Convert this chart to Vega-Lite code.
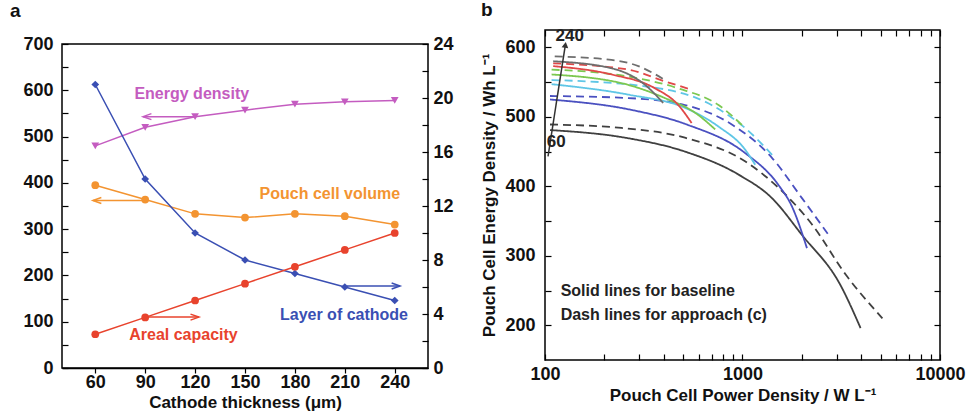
{
  "$schema": "https://vega.github.io/schema/vega-lite/v6.json",
  "padding": {"left": 10, "top": 0, "right": 0, "bottom": 0},
  "spacing": 26,
  "datasets": {
    "left": [
      {"t": 60, "v": 480, "s": "Energy density"}, {"t": 90, "v": 520, "s": "Energy density"}, {"t": 120, "v": 543, "s": "Energy density"}, {"t": 150, "v": 557, "s": "Energy density"}, {"t": 180, "v": 570, "s": "Energy density"}, {"t": 210, "v": 575, "s": "Energy density"}, {"t": 240, "v": 578, "s": "Energy density"},
      {"t": 60, "v": 395, "s": "Pouch cell volume"}, {"t": 90, "v": 364, "s": "Pouch cell volume"}, {"t": 120, "v": 333, "s": "Pouch cell volume"}, {"t": 150, "v": 325, "s": "Pouch cell volume"}, {"t": 180, "v": 333, "s": "Pouch cell volume"}, {"t": 210, "v": 328, "s": "Pouch cell volume"}, {"t": 240, "v": 310, "s": "Pouch cell volume"}
    ],
    "right": [
      {"t": 60, "v": 21, "s": "Layer of cathode"}, {"t": 90, "v": 14, "s": "Layer of cathode"}, {"t": 120, "v": 10, "s": "Layer of cathode"}, {"t": 150, "v": 8, "s": "Layer of cathode"}, {"t": 180, "v": 7, "s": "Layer of cathode"}, {"t": 210, "v": 6, "s": "Layer of cathode"}, {"t": 240, "v": 5, "s": "Layer of cathode"},
      {"t": 60, "v": 2.5, "s": "Areal capacity"}, {"t": 90, "v": 3.75, "s": "Areal capacity"}, {"t": 120, "v": 5, "s": "Areal capacity"}, {"t": 150, "v": 6.25, "s": "Areal capacity"}, {"t": 180, "v": 7.5, "s": "Areal capacity"}, {"t": 210, "v": 8.75, "s": "Areal capacity"}, {"t": 240, "v": 10, "s": "Areal capacity"}
    ],
    "arrowsA": [
      {"s": "Energy density", "x0": 120.5, "x1": 88.7, "y": 543, "dir": "L"},
      {"s": "Pouch cell volume", "x0": 89.3, "x1": 58.6, "y": 362, "dir": "L"},
      {"s": "Areal capacity", "x0": 89.9, "x1": 122.3, "y": 110, "dir": "R"},
      {"s": "Layer of cathode", "x0": 211.3, "x1": 243.2, "y": 177, "dir": "R"}
    ],
    "labelsA": [
      {"t": 118, "v": 592, "s": "Energy density", "label": "Energy density"},
      {"t": 201, "v": 376, "s": "Pouch cell volume", "label": "Pouch cell volume"},
      {"t": 209.5, "v": 114, "s": "Layer of cathode", "label": "Layer of cathode"},
      {"t": 113, "v": 71, "s": "Areal capacity", "label": "Areal capacity"}
    ],
    "curves": [
      {"g": "60", "k": "solid", "P": 106, "E": 481}, {"g": "60", "k": "solid", "P": 254, "E": 470}, {"g": "60", "k": "solid", "P": 511, "E": 450}, {"g": "60", "k": "solid", "P": 953, "E": 417}, {"g": "60", "k": "solid", "P": 1410, "E": 383}, {"g": "60", "k": "solid", "P": 2000, "E": 330}, {"g": "60", "k": "solid", "P": 3130, "E": 258}, {"g": "60", "k": "solid", "P": 3960, "E": 196},
      {"g": "60", "k": "dash", "P": 106, "E": 489}, {"g": "60", "k": "dash", "P": 244, "E": 484}, {"g": "60", "k": "dash", "P": 511, "E": 470}, {"g": "60", "k": "dash", "P": 1030, "E": 436}, {"g": "60", "k": "dash", "P": 1520, "E": 398}, {"g": "60", "k": "dash", "P": 2250, "E": 345}, {"g": "60", "k": "dash", "P": 3330, "E": 273}, {"g": "60", "k": "dash", "P": 5110, "E": 210},
      {"g": "90", "k": "solid", "P": 106, "E": 525}, {"g": "90", "k": "solid", "P": 274, "E": 510}, {"g": "90", "k": "solid", "P": 522, "E": 489}, {"g": "90", "k": "solid", "P": 1030, "E": 448}, {"g": "90", "k": "solid", "P": 1520, "E": 402}, {"g": "90", "k": "solid", "P": 1780, "E": 371}, {"g": "90", "k": "solid", "P": 2120, "E": 311},
      {"g": "90", "k": "dash", "P": 106, "E": 530}, {"g": "90", "k": "dash", "P": 264, "E": 527}, {"g": "90", "k": "dash", "P": 511, "E": 517}, {"g": "90", "k": "dash", "P": 883, "E": 489}, {"g": "90", "k": "dash", "P": 1410, "E": 441}, {"g": "90", "k": "dash", "P": 2000, "E": 383}, {"g": "90", "k": "dash", "P": 2730, "E": 330},
      {"g": "120", "k": "solid", "P": 108, "E": 547}, {"g": "120", "k": "solid", "P": 264, "E": 532}, {"g": "120", "k": "solid", "P": 511, "E": 513}, {"g": "120", "k": "solid", "P": 756, "E": 486}, {"g": "120", "k": "solid", "P": 1030, "E": 453}, {"g": "120", "k": "solid", "P": 1160, "E": 431},
      {"g": "120", "k": "dash", "P": 108, "E": 553}, {"g": "120", "k": "dash", "P": 321, "E": 544}, {"g": "120", "k": "dash", "P": 697, "E": 517}, {"g": "120", "k": "dash", "P": 1030, "E": 484}, {"g": "120", "k": "dash", "P": 1460, "E": 441},
      {"g": "150", "k": "solid", "P": 108, "E": 561}, {"g": "150", "k": "solid", "P": 264, "E": 546}, {"g": "150", "k": "solid", "P": 405, "E": 527}, {"g": "150", "k": "solid", "P": 575, "E": 506}, {"g": "150", "k": "solid", "P": 727, "E": 482},
      {"g": "150", "k": "dash", "P": 108, "E": 568}, {"g": "150", "k": "dash", "P": 264, "E": 558}, {"g": "150", "k": "dash", "P": 473, "E": 541}, {"g": "150", "k": "dash", "P": 756, "E": 517}, {"g": "150", "k": "dash", "P": 1030, "E": 484},
      {"g": "180", "k": "solid", "P": 110, "E": 573}, {"g": "180", "k": "solid", "P": 217, "E": 561}, {"g": "180", "k": "solid", "P": 361, "E": 541}, {"g": "180", "k": "solid", "P": 473, "E": 517}, {"g": "180", "k": "solid", "P": 553, "E": 491},
      {"g": "180", "k": "dash", "P": 110, "E": 577}, {"g": "180", "k": "dash", "P": 264, "E": 568}, {"g": "180", "k": "dash", "P": 405, "E": 551}, {"g": "180", "k": "dash", "P": 553, "E": 539},
      {"g": "240", "k": "solid", "P": 110, "E": 580}, {"g": "240", "k": "solid", "P": 217, "E": 570}, {"g": "240", "k": "solid", "P": 321, "E": 546}, {"g": "240", "k": "solid", "P": 397, "E": 520},
      {"g": "240", "k": "dash", "P": 112, "E": 587}, {"g": "240", "k": "dash", "P": 217, "E": 582}, {"g": "240", "k": "dash", "P": 297, "E": 573}, {"g": "240", "k": "dash", "P": 405, "E": 553}
    ],
    "arrowB": [{"P": 103.6, "E": 443, "P2": 126.8, "E2": 603.7}],
    "numsB": [{"P": 133.5, "E": 616, "label": "240"}, {"P": 114, "E": 464, "label": "60"}],
    "notesB": [{"P": 120, "E": 249, "label": "Solid lines for baseline"}, {"P": 120, "E": 215, "label": "Dash lines for approach (c)"}]
  },
  "hconcat": [
    {
      "spacing": 0,
      "vconcat": [
        {
          "title": {"text": "a", "anchor": "start", "frame": "group", "fontSize": 19, "fontWeight": "bold", "offset": 7, "dx": -52},
          "width": 366,
          "height": 1,
          "data": {"values": [{"z": 0}]},
          "mark": {"type": "point", "opacity": 0},
          "view": {"stroke": null}
        },
        {
          "width": 366,
          "height": 324,
          "view": {"stroke": "black", "strokeWidth": 1.5},
          "layer": [
            {
              "data": {"name": "left"},
              "mark": {"type": "line", "strokeWidth": 1.5},
              "encoding": {
                "x": {"field": "t", "type": "quantitative", "scale": {"domain": [40, 260], "nice": false, "zero": false},
                  "axis": {"orient": "bottom", "values": [60, 90, 120, 150, 180, 210, 240], "title": "Cathode thickness (μm)", "tickSize": 5, "labelPadding": 0, "titlePadding": 3, "labelFlush": false}},
                "y": {"field": "v", "type": "quantitative", "scale": {"domain": [0, 700], "nice": false},
                  "axis": {"orient": "left", "values": [0, 50, 100, 150, 200, 250, 300, 350, 400, 450, 500, 550, 600, 650, 700], "labelExpr": "datum.value % 100 == 0 ? datum.label : ''", "offset": -6, "tickSize": 6, "domain": false, "labelPadding": 9, "title": null}},
                "color": {"field": "s", "type": "nominal", "scale": {"domain": ["Energy density", "Pouch cell volume", "Layer of cathode", "Areal capacity"], "range": ["#c45cc0", "#f39431", "#3a4fb3", "#e8432d"]}, "legend": null}
              }
            },
            {
              "data": {"name": "left"},
              "mark": {"type": "point", "filled": true, "size": 60, "opacity": 1},
              "encoding": {
                "x": {"field": "t", "type": "quantitative", "scale": {"domain": [40, 260], "nice": false, "zero": false}},
                "y": {"field": "v", "type": "quantitative", "scale": {"domain": [0, 700], "nice": false}, "axis": null},
                "color": {"field": "s", "type": "nominal", "legend": null},
                "shape": {"field": "s", "type": "nominal", "scale": {"domain": ["Energy density", "Pouch cell volume", "Layer of cathode", "Areal capacity"], "range": ["triangle-down", "circle", "diamond", "circle"]}, "legend": null}
              }
            },
            {
              "data": {"name": "arrowsA"},
              "mark": {"type": "rule", "strokeWidth": 1.5},
              "encoding": {
                "x": {"field": "x0", "type": "quantitative", "scale": {"domain": [40, 260], "nice": false, "zero": false}},
                "x2": {"field": "x1"},
                "y": {"field": "y", "type": "quantitative", "scale": {"domain": [0, 700], "nice": false}, "axis": null},
                "color": {"field": "s", "type": "nominal", "legend": null}
              }
            },
            {
              "data": {"name": "arrowsA"},
              "transform": [{"filter": "datum.dir == 'L'"}],
              "mark": {"type": "point", "filled": false, "strokeWidth": 1.5, "size": 144, "opacity": 1, "shape": "M1.4,-0.5L0,0L1.4,0.5"},
              "encoding": {
                "x": {"field": "x1", "type": "quantitative", "scale": {"domain": [40, 260], "nice": false, "zero": false}},
                "y": {"field": "y", "type": "quantitative", "scale": {"domain": [0, 700], "nice": false}, "axis": null},
                "color": {"field": "s", "type": "nominal", "legend": null}
              }
            },
            {
              "data": {"name": "arrowsA"},
              "transform": [{"filter": "datum.dir == 'R'"}],
              "mark": {"type": "point", "filled": false, "strokeWidth": 1.5, "size": 144, "opacity": 1, "shape": "M-1.4,-0.5L0,0L-1.4,0.5"},
              "encoding": {
                "x": {"field": "x1", "type": "quantitative", "scale": {"domain": [40, 260], "nice": false, "zero": false}},
                "y": {"field": "y", "type": "quantitative", "scale": {"domain": [0, 700], "nice": false}, "axis": null},
                "color": {"field": "s", "type": "nominal", "legend": null}
              }
            },
            {
              "data": {"name": "labelsA"},
              "mark": {"type": "text", "fontSize": 16, "fontWeight": "bold", "font": "Liberation Sans"},
              "encoding": {
                "x": {"field": "t", "type": "quantitative", "scale": {"domain": [40, 260], "nice": false, "zero": false}},
                "y": {"field": "v", "type": "quantitative", "scale": {"domain": [0, 700], "nice": false}, "axis": null},
                "text": {"field": "label"},
                "color": {"field": "s", "type": "nominal", "legend": null}
              }
            },
            {
              "data": {"name": "right"},
              "mark": {"type": "line", "strokeWidth": 1.5},
              "encoding": {
                "x": {"field": "t", "type": "quantitative", "scale": {"domain": [40, 260], "nice": false, "zero": false}},
                "y": {"field": "v", "type": "quantitative", "scale": {"domain": [0, 24], "nice": false},
                  "axis": {"orient": "right", "values": [0, 2, 4, 6, 8, 10, 12, 14, 16, 18, 20, 22, 24], "labelExpr": "datum.value % 4 == 0 ? datum.label : ''", "offset": -6, "tickSize": 6, "domain": false, "labelPadding": 5, "title": null}},
                "color": {"field": "s", "type": "nominal", "legend": null}
              }
            },
            {
              "data": {"name": "right"},
              "mark": {"type": "point", "filled": true, "size": 60, "opacity": 1},
              "encoding": {
                "x": {"field": "t", "type": "quantitative", "scale": {"domain": [40, 260], "nice": false, "zero": false}},
                "y": {"field": "v", "type": "quantitative", "scale": {"domain": [0, 24], "nice": false}, "axis": null},
                "color": {"field": "s", "type": "nominal", "legend": null},
                "shape": {"field": "s", "type": "nominal", "legend": null}
              }
            }
          ],
          "resolve": {"scale": {"y": "independent"}}
        }
      ]
    },
    {
      "width": 395,
      "height": 330,
      "title": {"text": "b", "anchor": "start", "fontSize": 19, "fontWeight": "bold", "offset": 7},
      "layer": [
        {
          "data": {"name": "curves"},
          "mark": {"type": "line", "strokeWidth": 1.8, "interpolate": "monotone"},
          "encoding": {
            "x": {"field": "P", "type": "quantitative", "scale": {"type": "log", "domain": [100, 10000], "nice": false},
              "axis": {"orient": "bottom", "values": [100, 200, 300, 400, 500, 600, 700, 800, 900, 1000, 2000, 3000, 4000, 5000, 6000, 7000, 8000, 9000, 10000], "format": "d", "labelExpr": "(datum.value == 100 || datum.value == 1000 || datum.value == 10000) ? datum.label : ''", "labelFlush": false, "offset": -6, "tickSize": 6, "domain": false, "labelPadding": 5, "title": "Pouch Cell Power Density / W L⁻¹", "titlePadding": 4}},
            "y": {"field": "E", "type": "quantitative", "scale": {"domain": [150, 625], "nice": false, "zero": false},
              "axis": {"orient": "left", "values": [200, 250, 300, 350, 400, 450, 500, 550, 600], "labelExpr": "datum.value % 100 == 0 ? datum.label : ''", "offset": -6, "tickSize": 6, "domain": false, "labelPadding": 10, "title": "Pouch Cell Energy Density / Wh L⁻¹", "titlePadding": 6}},
            "color": {"field": "g", "type": "nominal", "scale": {"domain": ["60", "90", "120", "150", "180", "240"], "range": ["#404040", "#4a50c0", "#5fc6e6", "#7cc850", "#e04848", "#6e6e6e"]}, "legend": null},
            "strokeDash": {"field": "k", "type": "nominal", "scale": {"domain": ["solid", "dash"], "range": [[1, 0], [8, 5]]}, "legend": null}
          }
        },
        {
          "data": {"name": "arrowB"},
          "mark": {"type": "rule", "strokeWidth": 1.5, "color": "#333"},
          "encoding": {
            "x": {"field": "P", "type": "quantitative", "scale": {"type": "log", "domain": [100, 10000], "nice": false}, "axis": null},
            "y": {"field": "E", "type": "quantitative", "scale": {"domain": [150, 625], "nice": false, "zero": false}, "axis": null},
            "x2": {"field": "P2"},
            "y2": {"field": "E2"}
          }
        },
        {
          "data": {"name": "arrowB"},
          "mark": {"type": "point", "shape": "triangle-up", "filled": true, "size": 45, "color": "#333", "opacity": 1, "angle": 9},
          "encoding": {
            "x": {"field": "P2", "type": "quantitative", "scale": {"type": "log", "domain": [100, 10000], "nice": false}, "axis": null},
            "y": {"field": "E2", "type": "quantitative", "scale": {"domain": [150, 625], "nice": false, "zero": false}, "axis": null}
          }
        },
        {
          "data": {"name": "numsB"},
          "mark": {"type": "text", "fontSize": 17, "fontWeight": "bold", "font": "Liberation Sans", "color": "#222"},
          "encoding": {
            "x": {"field": "P", "type": "quantitative", "scale": {"type": "log", "domain": [100, 10000], "nice": false}, "axis": null},
            "y": {"field": "E", "type": "quantitative", "scale": {"domain": [150, 625], "nice": false, "zero": false}, "axis": null},
            "text": {"field": "label"}
          }
        },
        {
          "data": {"name": "notesB"},
          "mark": {"type": "text", "fontSize": 16, "fontWeight": "bold", "font": "Liberation Sans", "color": "#222", "align": "left"},
          "encoding": {
            "x": {"field": "P", "type": "quantitative", "scale": {"type": "log", "domain": [100, 10000], "nice": false},
              "axis": {"orient": "top", "values": [100, 200, 300, 400, 500, 600, 700, 800, 900, 1000, 2000, 3000, 4000, 5000, 6000, 7000, 8000, 9000, 10000], "labels": false, "title": null, "offset": -6, "tickSize": 6, "domain": false}},
            "y": {"field": "E", "type": "quantitative", "scale": {"domain": [150, 625], "nice": false, "zero": false},
              "axis": {"orient": "right", "values": [200, 250, 300, 350, 400, 450, 500, 550, 600], "labels": false, "title": null, "offset": -6, "tickSize": 6, "domain": false}},
            "text": {"field": "label"}
          }
        }
      ],
      "resolve": {"axis": {"x": "independent", "y": "independent"}}
    }
  ],
  "resolve": {"scale": {"color": "independent", "shape": "independent", "strokeDash": "independent"}},
  "config": {
    "font": "Liberation Sans",
    "view": {"stroke": "black", "strokeWidth": 1.5},
    "title": {"font": "Liberation Sans", "color": "#111"},
    "axis": {
      "labelFont": "Liberation Sans", "labelFontWeight": "bold", "labelFontSize": 18, "labelColor": "#111",
      "titleFont": "Liberation Sans", "titleFontSize": 17, "titleFontWeight": "bold", "titleColor": "#111",
      "domainColor": "black", "domainWidth": 1.5, "tickColor": "black", "tickWidth": 1.2, "grid": false
    }
  }
}
